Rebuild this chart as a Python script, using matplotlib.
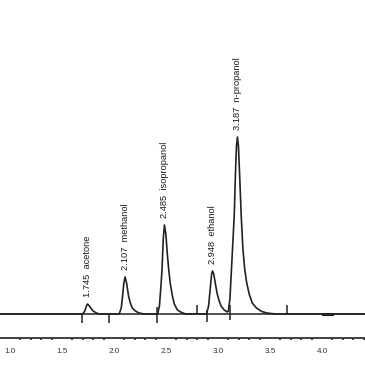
import numpy as np
import matplotlib
matplotlib.use('Agg')
import matplotlib.pyplot as plt
from matplotlib.ticker import MultipleLocator

plt.rcParams['font.family'] = ['Liberation Sans', 'DejaVu Sans']

# chromatogram trace (time in min, signal)
time = [0.90, 1.70, 1.72, 1.735, 1.745, 1.76, 1.78, 1.80, 1.83, 1.86,
        2.05, 2.07, 2.083, 2.095, 2.107, 2.123, 2.14, 2.157, 2.176, 2.205, 2.24, 2.29,
        2.42, 2.437, 2.452, 2.462, 2.474, 2.485, 2.499, 2.513, 2.526, 2.542, 2.562, 2.58, 2.61, 2.65, 2.69,
        2.89, 2.91, 2.928, 2.939, 2.948, 2.959, 2.974, 2.993, 3.012, 3.03, 3.06, 3.09,
        3.10, 3.115, 3.13, 3.145, 3.157, 3.168, 3.178, 3.187, 3.197, 3.21, 3.225, 3.24, 3.257,
        3.275, 3.30, 3.33, 3.37, 3.42, 3.47, 3.55, 4.45]
signal = [0, 0, 3, 8, 10, 8.5, 5.5, 3, 1, 0,
          0, 6, 18, 31, 37, 30, 18, 11, 6, 3, 1, 0,
          0, 8, 28, 45, 75, 89, 80, 60, 45, 30, 18, 10, 4, 1.5, 0,
          0, 8, 28, 40, 43, 40, 31, 20, 13, 8, 4, 2,
          3, 15, 45, 75, 100, 140, 168, 177, 168, 135, 95, 65, 45,
          32, 20, 11, 6, 2.5, 1, 0, 0]

# peak labels
peak_rt = [1.745, 2.107, 2.485, 2.948, 3.187]
peak_height = [10, 37, 89, 43, 177]
peak_names = ['acetone', 'methanol', 'isopropanol', 'ethanol', 'n-propanol']

# integration event marks (time, low, high)
mark_t = [1.69, 1.95, 2.41, 2.80, 2.89, 3.12, 3.66]
mark_lo = [-9, -9, -9, 0, -8, -6, 0]
mark_hi = [1, 1, 7, 9, 4, 9, 9]
seg_t = [4.01, 4.10]

fig = plt.figure(figsize=(3.65, 3.65), dpi=100)
ax = fig.add_axes([0, 0.074, 1, 0.926])

col = '#222222'
ax.plot(time, signal, color=col, lw=1.2)
ax.axhline(0, color=col, lw=1.1)
ax.vlines(mark_t, mark_lo, mark_hi, color=col, lw=1.1)
ax.plot(seg_t, [0, 0], color=col, lw=2.2)

for rt, h, name in zip(peak_rt, peak_height, peak_names):
    ax.annotate('%.3f  %s' % (rt, name), (rt, h), xytext=(0, 5),
                textcoords='offset points', rotation=90, ha='center',
                va='bottom', fontsize=6.7, color='#1a1a1a')

ax.set_xlim(0.904, 4.414)
ax.set_ylim(-24, 314)

for s in ['top', 'left', 'right']:
    ax.spines[s].set_visible(False)
ax.spines['bottom'].set_color('#333333')
ax.spines['bottom'].set_linewidth(1.3)

ax.set_xticks([1.0, 1.5, 2.0, 2.5, 3.0, 3.5, 4.0])
ax.set_xticklabels(['1.0', '1.5', '2.0', '2.5', '3.0', '3.5', '4.0'])
ax.xaxis.set_minor_locator(MultipleLocator(0.1))
ax.tick_params(axis='x', which='major', length=0, pad=7, labelsize=5.8,
               labelcolor='#333333')
ax.tick_params(axis='x', which='minor', length=1.5, width=1.4, color='#444444')
ax.set_yticks([])
ax.patch.set_alpha(0)

fig.savefig('out.png', dpi=100)
